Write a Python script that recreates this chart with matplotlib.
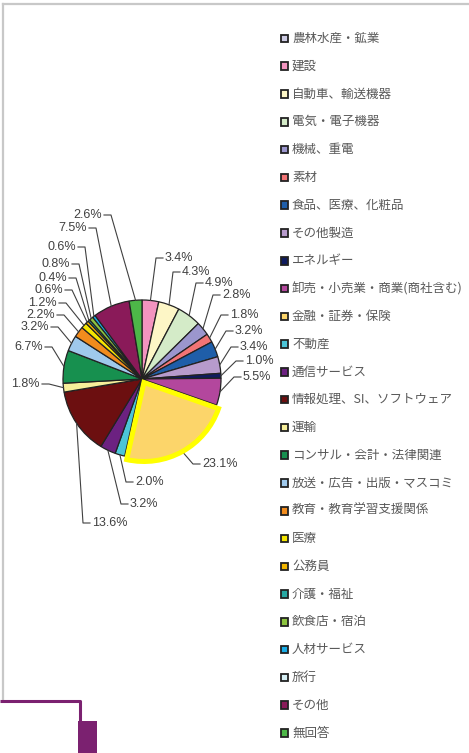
import numpy as np
import matplotlib
matplotlib.use("Agg")
import matplotlib.pyplot as plt
from matplotlib.patches import Rectangle

# categories (legend order) and shares in %
categories = ["農林水産・鉱業", "建設", "自動車、輸送機器", "電気・電子機器", "機械、重電",
              "素材", "食品、医療、化粧品", "その他製造", "エネルギー",
              "卸売・小売業・商業(商社含む)", "金融・証券・保険", "不動産", "通信サービス",
              "情報処理、SI、ソフトウェア", "運輸", "コンサル・会計・法律関連",
              "放送・広告・出版・マスコミ", "教育・教育学習支援関係", "医療", "公務員",
              "介護・福祉", "飲食店・宿泊", "人材サービス", "旅行", "その他", "無回答"]
values = [0.0, 3.4, 4.3, 4.9, 2.8, 1.8, 3.2, 3.4, 1.0, 5.5, 23.1, 2.0, 3.2,
          13.6, 1.8, 6.7, 3.2, 2.2, 1.2, 0.6, 0.4, 0.8, 0.6, 0.0, 7.5, 2.6]
colors = ["#cdcbe3", "#f394bf", "#fdf6c6", "#d4ebc8", "#9b96cd", "#f27475",
          "#1f5ea9", "#b79bcc", "#0f1b5e", "#b3479d", "#fcd56a", "#4cc5d8",
          "#6c2181", "#6c0f10", "#f7ef9a", "#17904f", "#9fc9ec", "#f28c1d",
          "#f4e500", "#f2b600", "#27a8a3", "#8cc43f", "#19ace6", "#d6eff4",
          "#8a1a59", "#4db748"]
highlight = "金融・証券・保険"

# label placement (image px): text anchor x, y, side
label_pos = {
    "建設": (165, 258, "r"), "自動車、輸送機器": (182, 272, "r"),
    "電気・電子機器": (205, 283, "r"), "機械、重電": (222, 295, "r"),
    "素材": (230, 315, "r"), "食品、医療、化粧品": (235, 331, "r"),
    "その他製造": (240, 347, "r"), "エネルギー": (245, 361, "r"),
    "卸売・小売業・商業(商社含む)": (243, 377, "r"), "金融・証券・保険": (202, 464, "r"),
    "不動産": (135, 482, "r"), "通信サービス": (130, 504, "r"),
    "情報処理、SI、ソフトウェア": (92, 523, "r"), "運輸": (40, 384, "l"),
    "コンサル・会計・法律関連": (43, 347, "l"), "放送・広告・出版・マスコミ": (49, 327, "l"),
    "教育・教育学習支援関係": (55, 315, "l"), "医療": (57, 303, "l"),
    "公務員": (63, 290, "l"), "介護・福祉": (67, 278, "l"),
    "飲食店・宿泊": (70, 264, "l"), "人材サービス": (76, 247, "l"),
    "その他": (87, 228, "l"), "無回答": (102, 215, "l"),
}

W, H = 469, 753
def Y(y):
    return H - y

fig = plt.figure(figsize=(W / 100, H / 100), dpi=100)
ax = fig.add_axes([0, 0, 1, 1])

cx, cy, R = 142, 379, 79
idx = [i for i, v in enumerate(values) if v > 0]
pv = [values[i] for i in idx]
pc = [colors[i] for i in idx]
pn = [categories[i] for i in idx]
expl = [4 if n == highlight else 0 for n in pn]

wedges, _ = ax.pie(pv, colors=pc, startangle=90, counterclock=False,
                   center=(cx, Y(cy)), radius=R, explode=expl, frame=True,
                   wedgeprops=dict(edgecolor="#222222", linewidth=0.9))
for w, n in zip(wedges, pn):
    if n == highlight:
        w.set_edgecolor("#ffff00")
        w.set_linewidth(3.6)
        w.set_zorder(3)

total = sum(pv)
cum = 0
for w, n, v in zip(wedges, pn, pv):
    mid = 90 - 360 * (cum + v / 2) / total
    cum += v
    wx, wy = w.center
    ex = wx + R * np.cos(np.radians(mid))
    ey = wy + R * np.sin(np.radians(mid))
    tx, ty, side = label_pos[n]
    if side == "r":
        elb = tx - 9
        ax.plot([ex, elb, tx - 2], [ey, Y(ty), Y(ty)], color="#404040", lw=0.8, zorder=1)
        ax.text(tx, Y(ty), f"{v:.1f}%", ha="left", va="center", fontsize=9,
                family="Liberation Sans", color="#404040")
    else:
        elb = tx + 9
        ax.plot([ex, elb, tx + 2], [ey, Y(ty), Y(ty)], color="#404040", lw=0.8, zorder=1)
        ax.text(tx, Y(ty), f"{v:.1f}%", ha="right", va="center", fontsize=9,
                family="Liberation Sans", color="#404040")

# legend
for i, (c, n) in enumerate(zip(colors, categories)):
    ry = 38.5 + i * 27.78
    ax.add_patch(Rectangle((280.5, Y(ry) - 3.8), 7.6, 7.6, facecolor=c,
                           edgecolor="#222222", linewidth=1.3))
    ax.text(292, Y(ry), n, ha="left", va="center", fontsize=9,
            family=["Noto Sans CJK JP", "DejaVu Sans"], color="#595959")

# frame and decoration
ax.plot([2.5, 2.5], [Y(3.5), Y(700)], color="#c8c8c8", lw=1.6)
ax.plot([2.5, W], [Y(3.5), Y(3.5)], color="#c8c8c8", lw=1.6)
ax.plot([0, 80, 80], [Y(701), Y(701), 0], color="#7b2170", lw=2.2, solid_capstyle="butt")
ax.add_patch(Rectangle((78, 0), 19, Y(721), facecolor="#7b2170", edgecolor="none"))

ax.set_xlim(0, W)
ax.set_ylim(0, H)
ax.set_aspect("auto")
ax.axis("off")
fig.savefig("out.png", dpi=100)
